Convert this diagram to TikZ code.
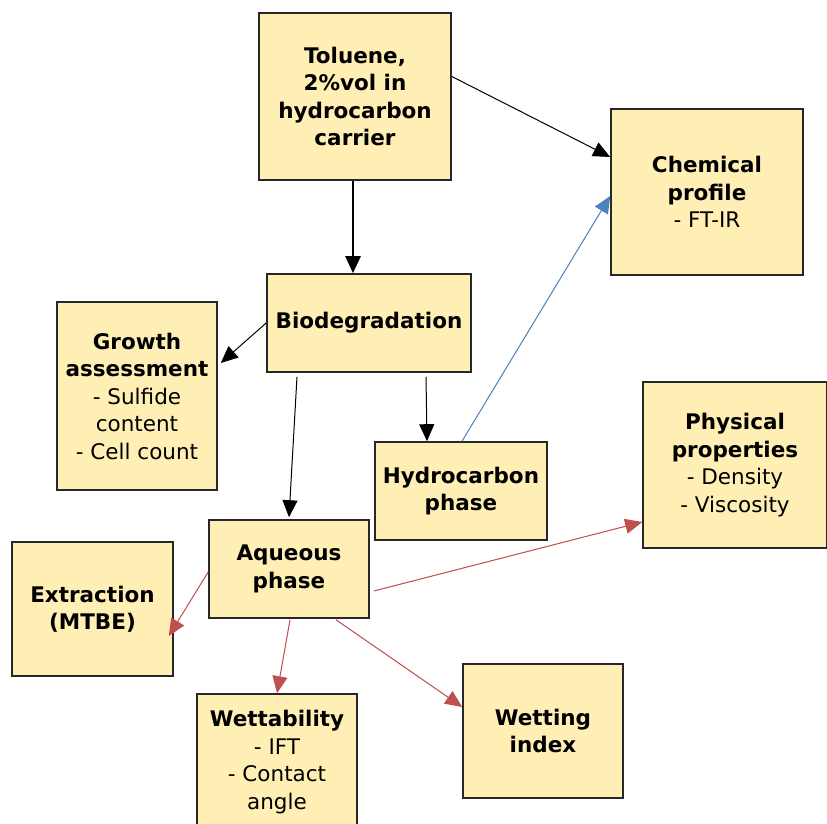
\documentclass[tikz,border=0pt]{standalone}
\usepackage{fontspec}
\setmainfont{DejaVu Sans}
\usepackage{tikz}
\usetikzlibrary{arrows.meta, positioning, calc}
\definecolor{boxfill}{RGB}{255, 239, 181}
\definecolor{boxline}{RGB}{40, 40, 40}
\definecolor{linkred}{RGB}{192, 80, 77}
\definecolor{linkblue}{RGB}{79, 129, 189}

\begin{document}
\begin{tikzpicture}[
    x=1pt, y=-1pt,
    block/.style={rectangle, draw=boxline, line width=1.6pt, fill=boxfill, align=center, inner sep=2pt,
        font=\fontsize{21.5}{27.5}\selectfont},
    arrow/.style={-{Triangle[length=17pt, width=15pt]}, line width=1pt},
    redarrow/.style={arrow, draw=linkred, fill=linkred},
    bluearrow/.style={arrow, draw=linkblue, fill=linkblue}
]
\useasboundingbox (0,0) rectangle (827,824);

\node[block, minimum width=192pt, minimum height=167pt] (toluene) at (355,96.5) {\bfseries Toluene,\\\bfseries 2\%vol in\\\bfseries hydrocarbon\\\bfseries carrier};
\node[block, minimum width=192pt, minimum height=166pt] (chemical) at (707,192) {\bfseries Chemical\\\bfseries profile\\- FT-IR};
\node[block, minimum width=204pt, minimum height=98pt] (biodeg) at (369,323) {\bfseries Biodegradation};
\node[block, minimum width=160pt, minimum height=188pt] (growth) at (137,396) {\bfseries Growth\\\bfseries assessment\\- Sulfide\\content\\- Cell count};
\node[block, minimum width=172pt, minimum height=98pt] (hydro) at (461,491) {\bfseries Hydrocarbon\\\bfseries phase};
\node[block, minimum width=184pt, minimum height=166pt] (physical) at (735,465) {\bfseries Physical\\\bfseries properties\\- Density\\- Viscosity};
\node[block, minimum width=160pt, minimum height=98pt] (aqueous) at (289,569) {\bfseries Aqueous\\\bfseries phase};
\node[block, minimum width=161pt, minimum height=134pt] (extraction) at (92.5,609) {\bfseries Extraction\\\bfseries (MTBE)};
\node[block, minimum width=160pt, minimum height=136pt] (wettability) at (277,762) {\bfseries Wettability\\- IFT\\- Contact\\angle};
\node[block, minimum width=160pt, minimum height=134pt] (wetting) at (543,731) {\bfseries Wetting\\\bfseries index};

\coordinate (tolfoot) at ($(toluene.south)+(-2,0)$);

\draw[arrow] ($(toluene.east)+(0,-20)$) -- ($(chemical.west)+(0,-35)$);
\draw[arrow, line width=2.6pt] (tolfoot) -- (tolfoot |- biodeg.north);
\draw[arrow] (biodeg.west) -- ($(growth.east)+(3,-33)$);
\draw[arrow] ($(biodeg.south)+(-72,4)$) -- ($(aqueous.north)+(0,-2)$);
\draw[arrow] ($(biodeg.south)+(57,4)$) -- ($(hydro.north)+(-34,0)$);
\draw[bluearrow] ($(hydro.north)+(1,0)$) -- ($(chemical.west)+(0,4)$);
\draw[redarrow] ($(aqueous.west)+(0,3)$) -- ($(extraction.east)+(-5,27)$);
\draw[redarrow] ($(aqueous.east)+(4,22)$) -- ($(physical.west)+(0,57)$);
\draw[redarrow] ($(aqueous.south)+(1,1)$) -- (wettability.north);
\draw[redarrow] ($(aqueous.south)+(47,1)$) -- ($(wetting.west)+(0,-24)$);

\end{tikzpicture}
\end{document}
